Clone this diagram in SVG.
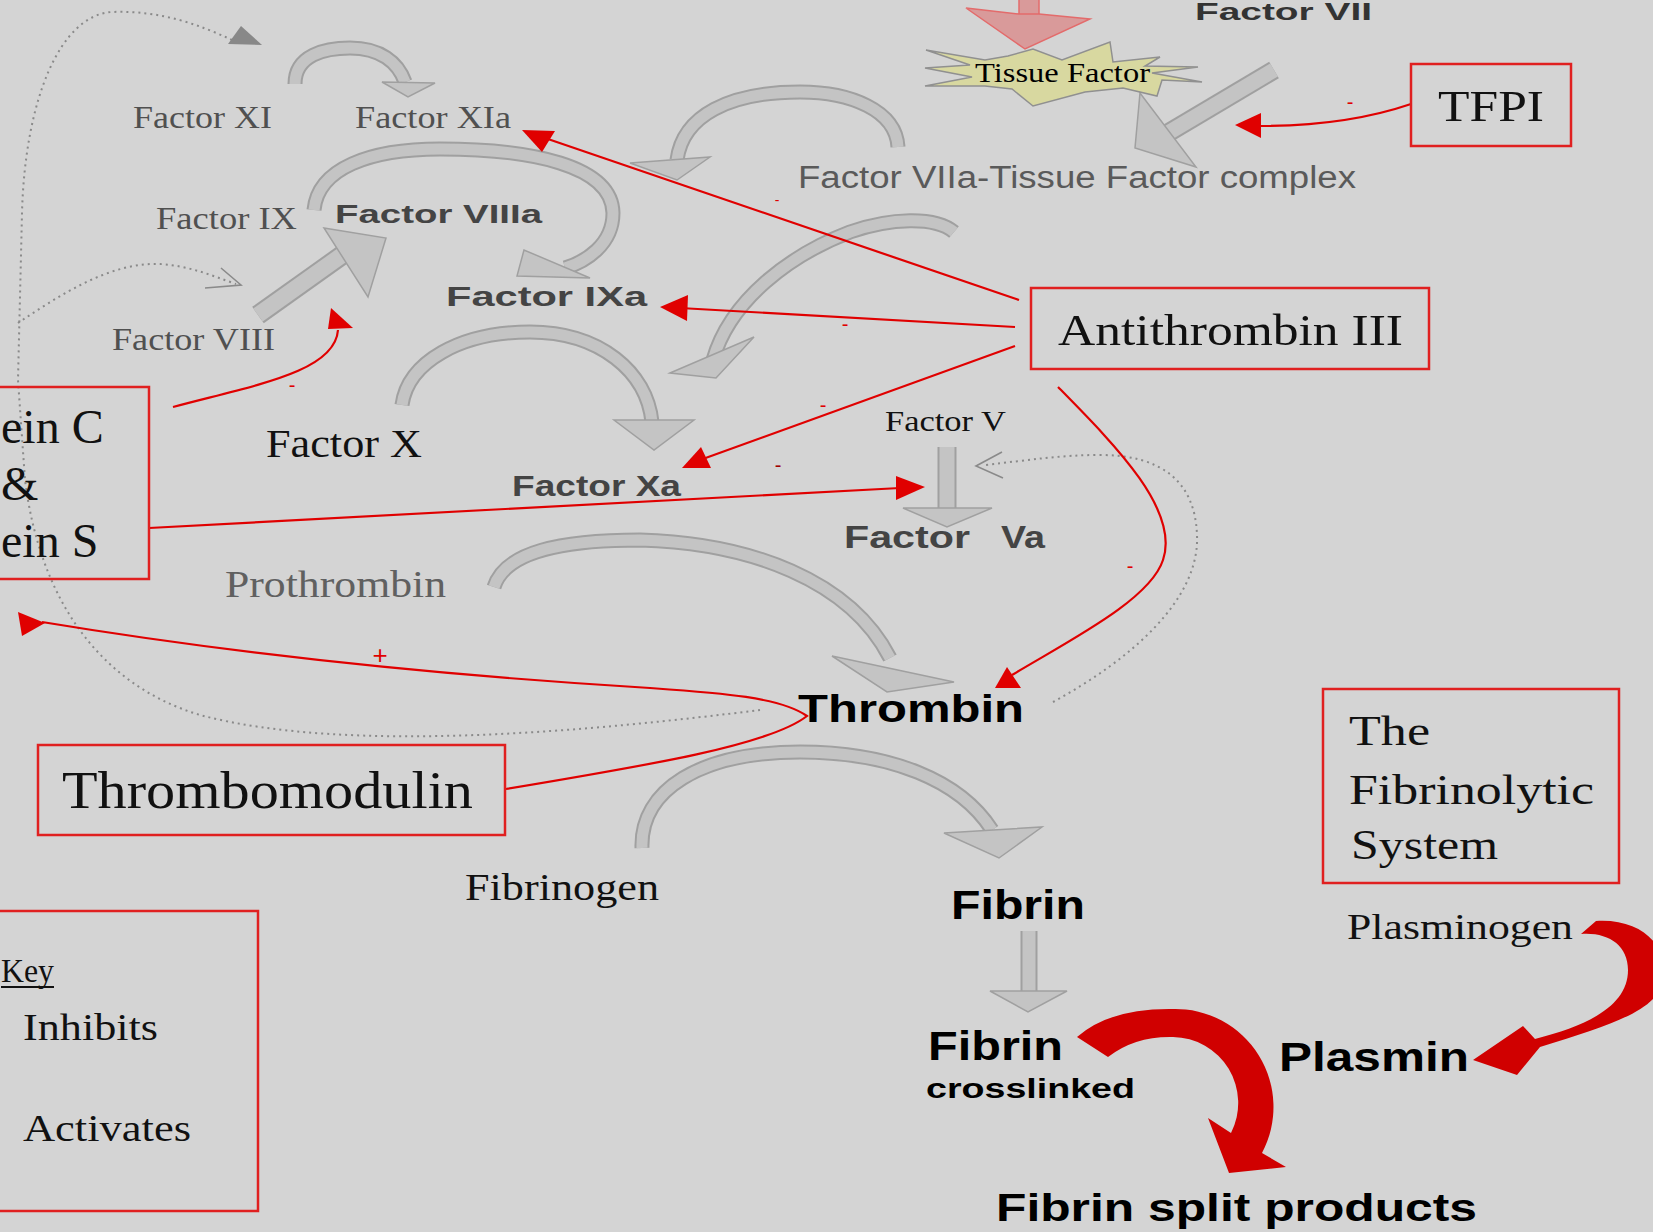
<svg xmlns="http://www.w3.org/2000/svg" xmlns:xlink="http://www.w3.org/1999/xlink" width="1653" height="1232" viewBox="0 0 1653 1232">
<style>
.s{font-family:"Liberation Serif","Times New Roman",serif}
.b{font-family:"Liberation Sans",Arial,sans-serif;font-weight:bold}
.n{font-family:"Liberation Sans",Arial,sans-serif}
.g{fill:#505050}
.k{fill:#111}
.bx{fill:none;stroke:#e02020;stroke-width:2.5}
.bo{fill:none;stroke:#a0a0a0;stroke-width:15}
.bi{fill:none;stroke:#c4c4c4;stroke-width:11}
.gh{fill:#c4c4c4;stroke:#a0a0a0;stroke-width:1.5;stroke-linejoin:miter}
.rl{fill:none;stroke:#e00000;stroke-width:2.2}
.rh{fill:#e00000}
.dt{fill:none;stroke:#8a8a8a;stroke-width:2;stroke-dasharray:2 4}
.oh{fill:none;stroke:#8a8a8a;stroke-width:1.6}
.sg{fill:#e00000;font-family:"Liberation Sans",Arial,sans-serif;font-size:20px;text-anchor:middle}
.rt{fill:#d00000}
</style>
<defs>
<path id="a1" d="M295,84 C295,55 325,48 350,48 C380,48 398,62 405,82"/>
<path id="a2" d="M898,147 C896,110 850,92 800,92 C730,92 683,115 677,160"/>
<path id="a3" d="M314,210 C318,168 370,149 440,149 C530,149 612,165 613,213 C613,245 585,262 565,268"/>
<path id="a4" d="M258,315 L345,253"/>
<path id="a5" d="M402,405 C408,362 460,332 530,332 C600,332 647,372 652,422"/>
<path id="a6" d="M954,232 C935,216 890,218 850,232 C790,255 730,300 713,360"/>
<path id="a7" d="M947,447 L947,509"/>
<path id="a8" d="M494,587 C505,552 560,540 640,540 C750,543 850,580 890,658"/>
<path id="a9" d="M642,848 C640,790 700,752 800,752 C890,752 960,780 992,830"/>
<path id="a10" d="M1029,931 L1029,992"/>
<path id="a11" d="M1274,70 L1168,133"/>
</defs>
<rect x="0" y="0" width="1653" height="1232" fill="#d4d4d4"/>

<g id="connectors">
  <use xlink:href="#a1" class="bo"/><use xlink:href="#a1" class="bi"/>
  <polygon class="gh" points="382,82 435,83 408,97"/>
  <use xlink:href="#a2" class="bo"/><use xlink:href="#a2" class="bi"/>
  <polygon class="gh" points="630,163 710,157 677,180"/>
  <use xlink:href="#a3" class="bo"/><use xlink:href="#a3" class="bi"/>
  <polygon class="gh" points="524,250 517,276 590,278"/>
  <use xlink:href="#a4" class="bo" style="stroke-width:20"/><use xlink:href="#a4" class="bi" style="stroke-width:16"/>
  <polygon class="gh" points="324,228 386,238 368,297"/>
  <use xlink:href="#a5" class="bo"/><use xlink:href="#a5" class="bi"/>
  <polygon class="gh" points="614,420 694,420 654,450"/>
  <use xlink:href="#a6" class="bo"/><use xlink:href="#a6" class="bi"/>
  <polygon class="gh" points="670,373 754,337 716,378"/>
  <use xlink:href="#a7" class="bo" style="stroke-width:19"/><use xlink:href="#a7" class="bi" style="stroke-width:15"/>
  <polygon class="gh" points="903,508 992,508 947,527"/>
  <use xlink:href="#a8" class="bo"/><use xlink:href="#a8" class="bi"/>
  <polygon class="gh" points="832,656 954,682 887,692"/>
  <use xlink:href="#a9" class="bo"/><use xlink:href="#a9" class="bi"/>
  <polygon class="gh" points="944,833 1042,827 999,858"/>
  <use xlink:href="#a10" class="bo" style="stroke-width:17"/><use xlink:href="#a10" class="bi" style="stroke-width:13"/>
  <polygon class="gh" points="990,991 1067,991 1028,1012"/>
  <use xlink:href="#a11" class="bo" style="stroke-width:19"/><use xlink:href="#a11" class="bi" style="stroke-width:15"/>
  <polygon class="gh" points="1140,93 1135,148 1196,167"/>
  <rect x="1019" y="-2" width="20" height="18" fill="#d99a9a" stroke="#e36b6b" stroke-width="1.5"/>
  <polygon points="966,8 1019,14 1039,14 1090,19 1025,49" fill="#d99a9a" stroke="#e36b6b" stroke-width="1.5"/>

  <path class="dt" d="M760,710 C600,730 350,755 200,715 C100,685 40,600 25,480 L18,380 L22,213 C25,100 60,15 112,12 C160,10 200,25 232,40"/>
  <polygon points="241,26 262,45 228,44" fill="#888"/>
  <path class="dt" d="M18,323 C60,295 110,262 160,264 C190,266 210,275 236,284"/>
  <polyline class="oh" points="221,268 241,285 205,288"/>
  <path class="dt" d="M1053,702 C1130,660 1200,600 1197,535 C1195,480 1160,455 1100,455 C1060,455 1030,460 985,465"/>
  <polyline class="oh" points="1002,452 976,466 1003,478"/>

  <path class="rl" d="M1019,300 L545,138"/>
  <polygon class="rh" points="522,130 555,131 542,152"/>
  <path class="rl" d="M1015,327 L680,308"/>
  <polygon class="rh" points="660,307 688,295 687,321"/>
  <path class="rl" d="M1015,346 L700,460"/>
  <polygon class="rh" points="682,468 711,468 701,447"/>
  <path class="rl" d="M173,407 C255,385 335,372 338,330"/>
  <polygon class="rh" points="328,329 353,328 331,308"/>
  <path class="rl" d="M149,528 L900,488"/>
  <polygon class="rh" points="896,476 896,500 925,487"/>
  <path class="rl" d="M506,789 C650,765 770,745 807,716 C780,697 720,693 650,688 Q320,668 42,622"/>
  <polygon class="rh" points="18,612 45,623 22,636"/>
  <path class="rl" d="M1058,387 C1115,445 1180,510 1163,560 C1150,600 1070,640 1012,675"/>
  <polygon class="rh" points="995,688 1021,688 1007,667"/>
  <path class="rl" d="M1411,104 C1370,118 1320,126 1260,126"/>
  <polygon class="rh" points="1235,125 1261,113 1261,138"/>

  <text class="sg" x="292" y="392">-</text>
  <text class="sg" x="777" y="205" style="font-size:14px">-</text>
  <text class="sg" x="845" y="331">-</text>
  <text class="sg" x="823" y="412">-</text>
  <text class="sg" x="778" y="472" style="fill:#a00000">-</text>
  <text class="sg" x="1130" y="573">-</text>
  <text class="sg" x="1350" y="109">-</text>
  <text class="sg" x="380" y="664" style="font-size:26px">+</text>

  <path class="rt" d="M1581,934 L1596,921 C1645,918 1672,950 1662,985 C1652,1012 1610,1025 1540,1047 L1517,1075 L1473,1060 L1523,1026 L1535,1039 C1590,1025 1628,1005 1628,970 C1628,945 1608,932 1581,934 Z"/>
  <path class="rt" d="M1077,1037 Q1110,1008 1173,1009 A98,98 0 0 1 1262,1153 L1286,1167 L1229,1173 L1208,1118 L1231,1133 A66,66 0 0 0 1173,1037 Q1135,1036 1108,1057 Z"/>
</g>

<g id="tissue-factor">
  <polygon points="926,50 985,60 1008,56 1033,49 1062,60 1110,42 1113,62 1160,57 1145,66 1198,67 1152,73 1202,82 1162,80 1157,96 1123,88 1085,92 1033,106 1012,89 985,86 925,86 972,77 925,68 970,65" fill="#d8d8a0" stroke="#909090" stroke-width="1.5"/>
  <text class="s" x="975" y="82" font-size="28" textLength="175" lengthAdjust="spacingAndGlyphs" fill="#000">Tissue Factor</text>
</g>
<g id="factor-vii"><text class="b" x="1195" y="20" font-size="24" textLength="177" lengthAdjust="spacingAndGlyphs" fill="#333">Factor VII</text></g>
<g id="factor-xi"><text class="s g" x="133" y="128" font-size="32" textLength="139" lengthAdjust="spacingAndGlyphs">Factor XI</text></g>
<g id="factor-xia"><text class="s g" x="355" y="128" font-size="32" textLength="156" lengthAdjust="spacingAndGlyphs">Factor XIa</text></g>
<g id="factor-ix"><text class="s g" x="156" y="229" font-size="32" textLength="141" lengthAdjust="spacingAndGlyphs">Factor IX</text></g>
<g id="factor-viiia"><text class="b" x="335" y="223" font-size="26" textLength="207" lengthAdjust="spacingAndGlyphs" fill="#444">Factor VIIIa</text></g>
<g id="factor-ixa"><text class="b" x="446" y="306" font-size="27" textLength="201" lengthAdjust="spacingAndGlyphs" fill="#444">Factor IXa</text></g>
<g id="factor-viii"><text class="s g" x="112" y="350" font-size="32" textLength="163" lengthAdjust="spacingAndGlyphs">Factor VIII</text></g>
<g id="factor-viia-tf"><text class="n" x="798" y="188" font-size="31" textLength="558" lengthAdjust="spacingAndGlyphs" fill="#5a5a5a">Factor VIIa-Tissue Factor complex</text></g>
<g id="factor-x"><text class="s k" x="266" y="457" font-size="40" textLength="156" lengthAdjust="spacingAndGlyphs">Factor X</text></g>
<g id="factor-xa"><text class="b" x="512" y="496" font-size="29" textLength="169" lengthAdjust="spacingAndGlyphs" fill="#444">Factor Xa</text></g>
<g id="factor-v"><text class="s k" x="885" y="431" font-size="30" textLength="121" lengthAdjust="spacingAndGlyphs">Factor V</text></g>
<g id="factor-va"><text class="b" x="844" y="548" font-size="31" fill="#444"><tspan textLength="126" lengthAdjust="spacingAndGlyphs">Factor</tspan> <tspan x="1001" textLength="44" lengthAdjust="spacingAndGlyphs">Va</tspan></text></g>
<g id="prothrombin"><text class="s" x="225" y="597" font-size="38" textLength="221" lengthAdjust="spacingAndGlyphs" fill="#606060">Prothrombin</text></g>
<g id="thrombin"><text class="b" x="798" y="722" font-size="38" textLength="226" lengthAdjust="spacingAndGlyphs" fill="#000">Thrombin</text></g>
<g id="fibrinogen"><text class="s k" x="465" y="900" font-size="38" textLength="194" lengthAdjust="spacingAndGlyphs">Fibrinogen</text></g>
<g id="fibrin"><text class="b" x="951" y="919" font-size="40" textLength="134" lengthAdjust="spacingAndGlyphs" fill="#000">Fibrin</text></g>
<g id="fibrin-crosslinked">
  <text class="b" x="928" y="1060" font-size="40" textLength="135" lengthAdjust="spacingAndGlyphs" fill="#000">Fibrin</text>
  <text class="b" x="926" y="1098" font-size="28" textLength="209" lengthAdjust="spacingAndGlyphs" fill="#000">crosslinked</text>
</g>
<g id="fibrin-split"><text class="b" x="996" y="1221" font-size="38" textLength="481" lengthAdjust="spacingAndGlyphs" fill="#000">Fibrin split products</text></g>
<g id="plasminogen"><text class="s k" x="1347" y="939" font-size="36" textLength="226" lengthAdjust="spacingAndGlyphs">Plasminogen</text></g>
<g id="plasmin"><text class="b" x="1279" y="1071" font-size="40" textLength="190" lengthAdjust="spacingAndGlyphs" fill="#000">Plasmin</text></g>

<g id="protein-c-s">
  <rect class="bx" x="-5" y="387" width="154" height="192"/>
  <text class="s k" x="1" y="443" font-size="48">ein C</text>
  <text class="s k" x="1" y="500" font-size="48">&amp;</text>
  <text class="s k" x="1" y="557" font-size="48">ein S</text>
</g>
<g id="thrombomodulin">
  <rect class="bx" x="38" y="745" width="467" height="90"/>
  <text class="s k" x="62" y="808" font-size="52" textLength="411" lengthAdjust="spacingAndGlyphs">Thrombomodulin</text>
</g>
<g id="antithrombin">
  <rect class="bx" x="1031" y="288" width="398" height="81"/>
  <text class="s k" x="1058" y="345" font-size="45" textLength="345" lengthAdjust="spacingAndGlyphs">Antithrombin III</text>
</g>
<g id="tfpi">
  <rect class="bx" x="1411" y="64" width="160" height="82"/>
  <text class="s k" x="1438" y="121" font-size="45" textLength="106" lengthAdjust="spacingAndGlyphs">TFPI</text>
</g>
<g id="fibrinolytic">
  <rect class="bx" x="1323" y="689" width="296" height="194"/>
  <text class="s k" x="1349" y="745" font-size="42" textLength="81" lengthAdjust="spacingAndGlyphs">The</text>
  <text class="s k" x="1349" y="804" font-size="42" textLength="245" lengthAdjust="spacingAndGlyphs">Fibrinolytic</text>
  <text class="s k" x="1351" y="859" font-size="42" textLength="147" lengthAdjust="spacingAndGlyphs">System</text>
</g>
<g id="key">
  <rect class="bx" x="-5" y="911" width="263" height="300"/>
  <text class="s k" x="1" y="982" font-size="34" textLength="53" lengthAdjust="spacingAndGlyphs">Key</text>
  <line x1="1" y1="987" x2="54" y2="987" stroke="#111" stroke-width="2"/>
  <text class="s k" x="23" y="1040" font-size="38" textLength="135" lengthAdjust="spacingAndGlyphs">Inhibits</text>
  <text class="s k" x="23" y="1141" font-size="38" textLength="168" lengthAdjust="spacingAndGlyphs">Activates</text>
</g>
</svg>
